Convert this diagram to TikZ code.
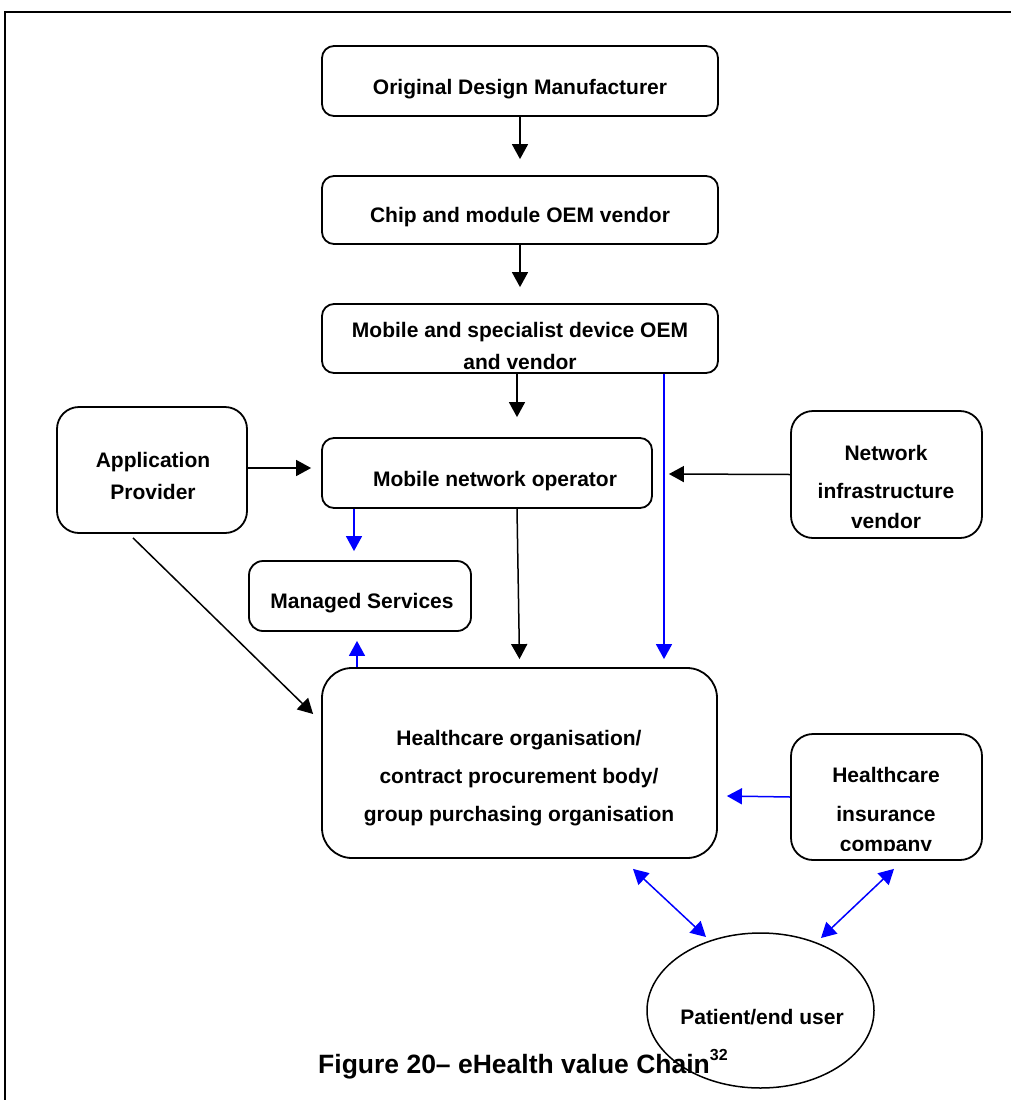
\documentclass[tikz,border=0pt]{standalone}
\usepackage{fontspec}
\setmainfont{Liberation Sans}
\usetikzlibrary{arrows.meta,shapes.geometric}
\begin{document}
\begin{tikzpicture}[x=1pt,y=-1pt,
 box/.style={draw,line width=1.8pt,rounded corners=12pt,inner sep=0pt},
 bigbox/.style={box,rounded corners=22pt},
 txt/.style={font=\fontsize{21}{32}\selectfont\bfseries,align=center,inner sep=0pt},
 arr/.style={line width=1.5pt,-{Triangle[length=15pt,width=16pt]}},
 barr/.style={arr,blue},
 dbarr/.style={line width=1.5pt,blue,{Triangle[length=15pt,width=16pt]}-{Triangle[length=15pt,width=16pt]}}]
\useasboundingbox (0,0) rectangle (1010,1100);
\draw[line width=2pt] (4.5,11.5) rectangle (1040,1130);

% boxes
\node[box,minimum width=396pt,minimum height=70pt] (odm) at (520,81) {};
\node[txt] (odmt) at (520,89) {Original Design Manufacturer};
\node[box,minimum width=396pt,minimum height=68pt] (chip) at (520,210) {};
\node[txt] (chipt) at (520,217) {Chip and module OEM vendor};
\node[box,minimum width=396pt,minimum height=69pt] (mob) at (520,338.5) {};
\node[txt] (mobt) at (520,346) {Mobile and specialist device OEM\\and vendor};
\node[box,minimum width=330pt,minimum height=70pt] (mno) at (487,473) {};
\node[txt] (mnot) at (495,481) {Mobile network operator};
\node[bigbox,minimum width=190pt,minimum height=126pt] (app) at (152,470) {};
\node[txt] (appt) at (153,475.5) {Application\\Provider};
\node[bigbox,minimum width=191pt,minimum height=127pt] (net) at (886.5,474.5) {};
\node[txt,font=\fontsize{21}{38}\selectfont\bfseries] (nett) at (886,487) {Network\\infrastructure\\[-8pt]vendor};
\node[box,rounded corners=14pt,minimum width=222pt,minimum height=70pt] (man) at (360,596) {};
\node[txt] (mant) at (362,603) {Managed Services};
\node[box,rounded corners=30pt,minimum width=395pt,minimum height=190pt] (hc) at (519.5,763) {};
\node[txt,font=\fontsize{21}{38}\selectfont\bfseries] (hct) at (519,778) {Healthcare organisation/\\contract procurement body/\\group purchasing organisation};
\node[bigbox,minimum width=191pt,minimum height=126pt] (ins) at (886.5,797) {};
\begin{scope}
\clip (791,734) rectangle (982,850);
\node[txt,font=\fontsize{21}{39}\selectfont\bfseries] (inst) at (886,812) {Healthcare\\insurance\\[-9pt]company};
\end{scope}
\node[draw,ellipse,line width=1.5pt,minimum width=227pt,minimum height=155pt,inner sep=0pt] (ell) at (760.5,1010.5) {};
\node[txt,anchor=base] (ellt) at (762,1024) {Patient/end user};
\node[inner sep=0pt,anchor=base west,font=\fontsize{26.5}{30}\selectfont\bfseries] (cap) at (318,1073) {Figure 20– eHealth value Chain\raisebox{13pt}{\fontsize{16}{16}\selectfont 32}};

% connectors
\draw[arr,shorten >=16pt] (odm) -- (chip);
\draw[arr,shorten >=16pt] (chip) -- (mob);
\draw[arr] ([xshift=-3pt]mob.south) -- ([xshift=30pt,yshift=20pt]mno.north);
\draw[arr] ([yshift=2pt]app.east) -- ([xshift=-10pt,yshift=5pt]mno.west);
\draw[arr] (net.west) -- ([xshift=16pt,yshift=-1pt]mno.east);
\draw[barr] ([xshift=-133pt]mno.south) -- ([xshift=-6pt,yshift=9pt]man.north);
\draw[barr] ([xshift=-162.5pt]hc.north) -- ([xshift=-3pt,yshift=-9pt]man.south);
\draw[arr] ([xshift=30pt]mno.south) -- ([yshift=8pt]hc.north);
\draw[barr] ([xshift=144pt]mob.south) -- ([xshift=144.5pt,yshift=8pt]hc.north);
\draw[arr] ([xshift=-19pt,yshift=-4pt]app.south) -- ([xshift=-8pt,yshift=49pt]hc.west);
\draw[barr] (ins.west) -- ([xshift=9pt,yshift=-33pt]hc.east);
\draw[dbarr] ([xshift=113.5pt,yshift=-10pt]hc.south) -- ([xshift=-54.5pt,yshift=73.5pt]ell.center);
\draw[dbarr] ([xshift=7.5pt,yshift=-8pt]ins.south) -- ([xshift=60.5pt,yshift=72.5pt]ell.center);
\end{tikzpicture}
\end{document}
